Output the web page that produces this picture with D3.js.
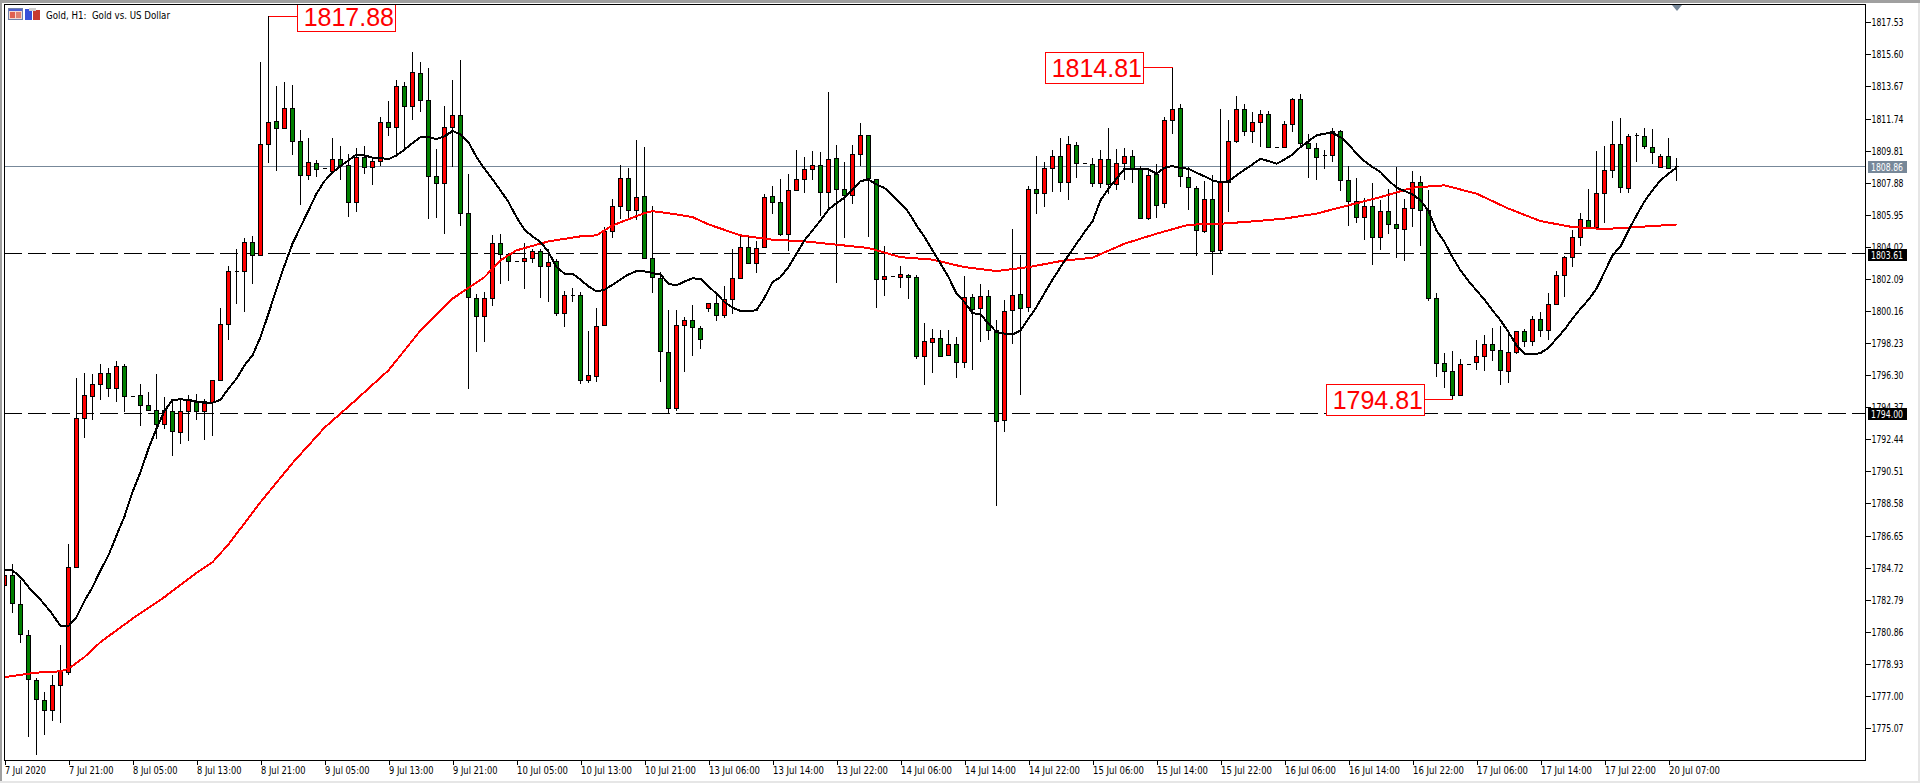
<!DOCTYPE html>
<html>
<head>
<meta charset="utf-8">
<title>Gold, H1</title>
<script src="https://cdn.jsdelivr.net/npm/d3@7"></script>
<style>
html, body { margin: 0; padding: 0; background: #fff; overflow: hidden; }
svg { display: block; }
</style>
</head>
<body>
<div id="chart"></div>
<script>
var opens = [1783.69,1784.25,1782.55,1780.68,1777.98,1776.77,1776.17,1777.68,1778.46,1784.75,
1793.74,1795.06,1795.79,1796.42,1795.55,1796.87,1795.06,1795.12,1794.52,1794.22,
1793.38,1794.14,1792.90,1794.14,1794.72,1794.14,1794.68,1795.99,1799.40,1802.59,
1802.59,1804.33,1803.55,1810.23,1811.61,1811.17,1812.39,1810.41,1808.36,1809.06,
1808.78,1808.58,1809.30,1808.96,1806.71,1809.42,1808.84,1809.20,1811.55,1811.23,
1813.72,1812.49,1814.50,1812.88,1808.30,1807.88,1811.25,1811.97,1806.08,1800.96,
1799.88,1800.96,1804.27,1803.61,1803.19,1803.19,1803.37,1803.79,1802.89,1803.19,
1800.06,1801.14,1801.14,1796.03,1796.27,1799.34,1804.95,1806.50,1808.18,1806.26,
1807.10,1803.37,1802.16,1797.71,1794.34,1799.34,1799.64,1799.16,1800.36,1800.66,
1799.94,1800.90,1802.16,1804.03,1803.07,1804.03,1807.10,1806.74,1804.81,1807.46,
1808.12,1808.72,1808.96,1807.34,1809.39,1807.52,1807.16,1809.63,1810.73,1808.12,
1802.10,1802.29,1802.23,1802.35,1802.23,1797.47,1798.31,1798.55,1797.53,1798.19,
1797.11,1801.02,1800.36,1801.08,1799.04,1793.62,1800.24,1801.20,1800.42,1807.52,
1807.28,1808.78,1809.51,1807.94,1810.17,1809.08,1809.02,1807.88,1809.32,1807.82,
1809.08,1809.51,1808.72,1805.77,1808.42,1806.68,1811.67,1812.39,1808.24,1807.58,
1804.99,1806.92,1803.85,1807.94,1810.41,1812.33,1811.01,1811.55,1812.03,1810.05,
1810.05,1811.43,1812.94,1810.29,1809.99,1809.54,1809.57,1811.01,1808.06,1806.80,
1805.84,1806.50,1804.63,1806.20,1805.41,1805.11,1806.38,1807.94,1806.26,1800.96,
1797.05,1796.57,1795.13,1796.99,1797.11,1797.47,1798.19,1797.83,1796.57,1797.71,
1798.98,1798.37,1799.70,1799.04,1800.60,1802.35,1803.43,1804.63,1805.65,1805.23,
1807.28,1808.66,1810.23,1807.58,1810.77,1810.71,1810.05,1808.84,1809.51,1808.88];

var highs = [1784.85,1784.92,1783.95,1780.94,1778.10,1777.23,1778.24,1780.04,1786.12,1796.11,
1796.41,1796.35,1796.95,1796.71,1797.13,1796.99,1795.06,1795.74,1795.28,1796.35,
1794.98,1794.88,1794.88,1795.08,1795.19,1794.88,1795.99,1800.36,1802.84,1803.91,
1804.53,1804.65,1815.12,1817.88,1813.68,1813.92,1813.74,1811.07,1810.55,1809.22,
1808.78,1810.55,1810.07,1809.63,1809.99,1810.07,1809.42,1811.85,1812.77,1814.04,
1813.96,1815.72,1815.12,1814.76,1809.88,1812.51,1814.08,1815.24,1808.38,1801.20,
1801.28,1804.71,1804.81,1803.63,1803.19,1804.27,1803.91,1803.91,1803.87,1803.28,
1801.34,1801.56,1801.32,1798.93,1800.32,1805.23,1806.88,1808.96,1808.78,1810.43,
1810.01,1806.50,1802.53,1800.20,1800.20,1799.78,1800.50,1799.25,1800.66,1801.26,
1801.64,1803.87,1804.65,1804.65,1804.35,1807.22,1807.66,1808.08,1808.38,1809.82,
1809.40,1809.76,1809.70,1813.31,1810.13,1809.10,1810.13,1811.49,1810.73,1808.12,
1804.05,1802.29,1802.89,1802.41,1802.35,1799.46,1799.05,1798.99,1798.99,1798.57,
1802.24,1801.20,1801.80,1801.40,1799.64,1800.84,1805.11,1803.51,1807.66,1809.46,
1809.10,1809.82,1810.59,1810.71,1810.35,1809.08,1809.39,1809.87,1811.19,1809.93,
1809.99,1809.87,1808.86,1808.78,1809.02,1811.85,1814.81,1812.59,1808.82,1807.70,
1807.96,1808.32,1812.33,1811.63,1813.07,1812.59,1812.15,1812.27,1812.21,1810.05,
1811.57,1813.00,1813.19,1810.83,1810.29,1809.82,1811.19,1811.07,1808.86,1808.18,
1806.95,1807.88,1806.82,1807.52,1808.82,1806.92,1808.58,1808.26,1807.42,1801.26,
1797.65,1797.73,1797.29,1796.99,1798.39,1798.74,1799.16,1799.28,1798.83,1798.98,
1799.10,1799.88,1800.12,1801.26,1802.59,1803.49,1805.05,1806.08,1807.48,1809.76,
1810.07,1811.57,1811.75,1810.83,1810.89,1811.15,1811.13,1809.63,1810.55,1809.34];

var lows = [1783.35,1781.99,1780.20,1774.52,1773.42,1774.64,1775.49,1775.37,1778.24,1784.75,
1792.51,1793.58,1794.78,1794.98,1794.68,1794.08,1795.06,1793.24,1794.14,1792.48,
1793.04,1791.43,1792.18,1792.33,1793.62,1792.39,1792.63,1795.99,1798.39,1800.56,
1800.10,1801.76,1803.55,1809.06,1808.58,1811.13,1809.52,1806.52,1808.02,1808.22,
1808.78,1808.58,1808.02,1805.81,1806.09,1808.38,1807.72,1808.88,1810.67,1809.52,
1809.93,1811.63,1812.13,1805.69,1805.77,1804.81,1808.82,1805.27,1795.49,1797.69,
1798.29,1800.46,1801.78,1801.94,1803.19,1801.48,1803.04,1800.92,1800.70,1799.85,
1799.19,1800.70,1795.74,1795.82,1795.88,1799.34,1804.53,1805.72,1805.77,1805.61,
1803.37,1801.24,1795.88,1793.98,1794.14,1796.49,1797.45,1797.87,1800.10,1799.55,
1799.73,1799.97,1802.16,1803.07,1802.44,1803.97,1805.97,1804.65,1803.77,1807.46,
1807.28,1808.02,1805.85,1806.33,1801.84,1804.55,1806.62,1808.86,1804.61,1800.36,
1801.06,1802.29,1801.54,1800.88,1797.27,1795.73,1796.42,1797.41,1797.47,1796.15,
1796.75,1796.63,1798.31,1798.39,1788.42,1792.88,1798.19,1795.13,1800.10,1806.02,
1806.41,1807.32,1807.32,1806.83,1808.16,1809.08,1807.62,1807.58,1807.22,1807.46,
1808.02,1807.86,1805.77,1805.61,1805.75,1806.35,1810.83,1807.62,1806.21,1803.45,
1804.87,1802.30,1803.61,1806.11,1810.26,1810.69,1810.26,1810.02,1809.99,1810.05,
1810.05,1810.91,1809.99,1808.16,1808.06,1808.68,1809.12,1807.38,1805.25,1805.45,
1804.41,1802.90,1803.85,1804.81,1803.37,1803.16,1805.21,1804.05,1800.76,1796.18,
1795.52,1794.78,1795.13,1796.99,1796.63,1796.55,1797.13,1795.68,1795.82,1797.55,
1797.99,1798.05,1798.57,1798.39,1800.54,1801.00,1802.80,1804.07,1805.21,1805.21,
1805.45,1808.16,1807.26,1807.26,1809.12,1809.88,1808.98,1808.78,1808.72,1807.98];

var closes = [1784.25,1782.61,1780.74,1778.04,1776.83,1776.17,1777.68,1778.54,1784.75,1793.74,
1795.08,1795.79,1796.42,1795.55,1796.87,1795.06,1795.06,1794.52,1794.20,1793.38,
1794.18,1792.93,1794.14,1794.78,1794.14,1794.74,1795.99,1799.40,1802.59,1802.59,
1804.33,1803.55,1810.23,1811.55,1811.17,1812.39,1810.41,1808.36,1809.14,1808.72,
1808.78,1809.30,1808.96,1806.71,1809.42,1808.82,1809.20,1811.55,1811.23,1813.72,
1812.49,1814.56,1812.88,1808.30,1807.88,1811.25,1811.97,1806.08,1801.02,1799.88,
1800.96,1804.27,1803.61,1803.19,1803.19,1803.37,1803.79,1802.89,1803.13,1800.06,
1801.14,1801.14,1796.03,1796.33,1799.28,1804.95,1806.50,1808.18,1806.26,1807.04,
1803.37,1802.22,1797.77,1794.34,1799.34,1799.64,1799.22,1798.49,1800.66,1799.94,
1800.90,1802.16,1804.03,1803.07,1803.97,1807.04,1806.74,1804.81,1807.46,1808.12,
1808.72,1808.96,1807.34,1809.32,1807.52,1807.16,1809.63,1810.73,1808.18,1802.10,
1802.29,1802.29,1802.41,1802.23,1797.47,1798.37,1798.55,1797.47,1798.19,1797.11,
1801.02,1800.30,1801.08,1799.04,1793.56,1800.18,1801.14,1800.36,1807.52,1807.28,
1808.78,1809.51,1807.94,1810.23,1809.08,1809.08,1807.88,1809.32,1807.82,1809.08,
1809.51,1808.72,1805.77,1808.36,1806.56,1811.67,1812.33,1808.30,1807.64,1805.05,
1806.92,1803.79,1807.94,1810.41,1812.33,1811.01,1811.55,1812.03,1810.05,1810.05,
1811.43,1812.94,1810.29,1809.99,1809.45,1809.54,1811.01,1808.06,1806.80,1805.84,
1806.50,1804.63,1806.20,1805.41,1805.17,1806.38,1807.94,1806.26,1800.96,1797.05,
1796.57,1795.13,1796.99,1796.99,1797.47,1798.19,1797.83,1796.63,1797.71,1798.98,
1798.37,1799.70,1799.04,1800.60,1802.35,1803.43,1804.63,1805.72,1805.23,1807.28,
1808.66,1810.23,1807.64,1810.71,1810.77,1810.11,1809.75,1809.51,1808.78,1808.86];

// black moving average, one reading per bar
var fastMa = [1784.55,1784.55,1784.15,1783.55,1783.05,1782.51,1781.91,1781.20,1781.20,1781.74,
1782.71,1783.55,1784.55,1785.46,1786.66,1787.80,1789.26,1790.47,1791.88,1793.08,
1794.14,1794.82,1794.84,1794.82,1794.70,1794.64,1794.64,1794.82,1795.49,1796.09,
1796.89,1797.49,1798.59,1800.00,1801.50,1802.90,1804.21,1805.21,1806.21,1807.22,
1807.98,1808.48,1808.88,1809.22,1809.58,1809.52,1809.39,1809.36,1809.30,1809.52,
1809.87,1810.26,1810.62,1810.62,1810.50,1810.67,1810.99,1810.79,1810.32,1809.42,
1808.72,1808.08,1807.42,1806.71,1805.81,1805.05,1804.65,1804.31,1803.71,1802.80,
1802.41,1802.41,1802.04,1801.64,1801.34,1801.44,1801.74,1802.06,1802.36,1802.56,
1802.54,1802.44,1802.36,1801.80,1801.70,1801.94,1802.12,1802.10,1801.64,1801.20,
1800.70,1800.36,1800.16,1800.16,1800.20,1800.96,1801.90,1802.20,1802.80,1803.61,
1804.41,1805.01,1805.61,1806.26,1806.65,1806.98,1807.46,1807.98,1808.06,1807.78,
1807.56,1807.12,1806.65,1806.11,1805.31,1804.61,1803.81,1803.01,1802.20,1801.20,
1800.70,1800.03,1799.96,1799.40,1798.89,1798.80,1798.75,1798.99,1799.70,1800.40,
1801.24,1802.04,1802.80,1803.51,1804.21,1804.91,1805.55,1806.82,1807.52,1808.12,
1808.72,1808.72,1808.72,1808.68,1808.42,1808.78,1808.88,1808.76,1808.72,1808.48,
1808.26,1808.02,1807.90,1807.96,1808.32,1808.66,1808.98,1809.32,1809.18,1809.02,
1809.27,1809.58,1810.02,1810.38,1810.73,1810.83,1810.87,1810.62,1810.19,1809.63,
1809.18,1808.82,1808.52,1808.02,1807.58,1807.38,1807.18,1806.82,1806.17,1805.01,
1804.31,1803.40,1802.60,1801.96,1801.40,1800.84,1800.20,1799.60,1798.89,1798.09,
1797.59,1797.55,1797.63,1797.95,1798.49,1799.04,1799.70,1800.30,1800.84,1801.50,
1802.50,1803.51,1804.05,1805.01,1805.91,1806.76,1807.42,1808.02,1808.42,1808.78];

// red moving average, read at these bars only
var slowBars = [0,4,7,8,10,12,16,20,24,26,28,32,36,40,44,48,52,56,60,62,64,68,72,74,76,80,81,84,86,88,92,96,100,104,108,112,116,120,124,128,132,136,140,144,148,152,156,160,164,168,172,176,180,184,188,192,196,200,204,208,209];
var slowMa = [1778.13,1778.40,1778.48,1778.64,1779.34,1780.24,1781.65,1782.95,1784.41,1785.05,1786.12,1788.66,1791.01,1793.14,1794.84,1796.59,1798.99,1800.90,1802.20,1803.21,1803.81,1804.35,1804.65,1804.71,1805.31,1806.05,1806.17,1805.97,1805.81,1805.37,1804.71,1804.45,1804.35,1804.15,1803.95,1803.40,1803.25,1802.80,1802.56,1802.80,1803.16,1803.37,1804.21,1804.81,1805.35,1805.41,1805.55,1805.72,1806.02,1806.52,1807.01,1807.58,1807.72,1807.22,1806.32,1805.57,1805.21,1805.09,1805.21,1805.33,1805.31];

var priceTicks = [1817.53,1815.60,1813.67,1811.74,1809.81,1807.88,1805.95,1804.02,1802.09,1800.16,1798.23,1796.30,1794.37,1792.44,1790.51,1788.58,1786.65,1784.72,1782.79,1780.86,1778.93,1777.00,1775.07];
var timeLabels = ["7 Jul 2020","7 Jul 21:00","8 Jul 05:00","8 Jul 13:00","8 Jul 21:00","9 Jul 05:00","9 Jul 13:00","9 Jul 21:00","10 Jul 05:00","10 Jul 13:00","10 Jul 21:00","13 Jul 06:00","13 Jul 14:00","13 Jul 22:00","14 Jul 06:00","14 Jul 14:00","14 Jul 22:00","15 Jul 06:00","15 Jul 14:00","15 Jul 22:00","16 Jul 06:00","16 Jul 14:00","16 Jul 22:00","17 Jul 06:00","17 Jul 14:00","17 Jul 22:00","20 Jul 07:00"];
var levelPrices = [1803.61, 1794.00];
var bidPrice = 1808.86;
var swingLabels = ["1817.88", "1814.81", "1794.81"];
var swingBars = [33, 146, 181];
var swingValues = [1817.88, 1814.81, 1794.81];

var fullWidth = 1920, fullHeight = 783;
var left = 4, right = 1865, top_ = 4, bottom = 760;
var font = "'DejaVu Sans', sans-serif";

var svg = d3.select("#chart").append("svg")
    .attr("width", fullWidth)
    .attr("height", fullHeight)
    .style("background", "#fff");

var x = d3.scaleLinear().domain([0, 209]).range([4.5, 1676.5]);
var y = d3.scaleLinear().domain([1817.53, 1775.07]).range([22.3, 728]);

// window edges
svg.append("rect").attr("x", 0).attr("y", 0).attr("width", fullWidth).attr("height", 3).attr("fill", "#a0a0a0");
svg.append("rect").attr("x", 0).attr("y", 0).attr("width", 2).attr("height", fullHeight).attr("fill", "#a0a0a0");
svg.append("rect").attr("x", 1918).attr("y", 3).attr("width", 2).attr("height", fullHeight).attr("fill", "#e6e6e6");
svg.append("rect").attr("x", 0).attr("y", 781).attr("width", fullWidth).attr("height", 2).attr("fill", "#e6e6e6");

svg.append("clipPath").attr("id", "plot-clip").append("rect")
    .attr("x", left).attr("y", top_).attr("width", right - left).attr("height", bottom - top_);

var plot = svg.append("g").attr("clip-path", "url(#plot-clip)").attr("shape-rendering", "crispEdges");

// level lines sit behind the candles
plot.selectAll(".level").data(levelPrices).enter().append("line")
    .attr("class", "level")
    .attr("x1", left).attr("x2", right)
    .attr("y1", function (d) { return y(d); })
    .attr("y2", function (d) { return y(d); })
    .attr("stroke", "#000")
    .attr("stroke-dasharray", "18,6");

plot.append("line")
    .attr("x1", left).attr("x2", right)
    .attr("y1", y(bidPrice)).attr("y2", y(bidPrice))
    .attr("stroke", "#778899");

var bars = d3.range(opens.length);

plot.selectAll(".wick").data(bars).enter().append("line")
    .attr("class", "wick")
    .attr("x1", function (i) { return x(i); })
    .attr("x2", function (i) { return x(i); })
    .attr("y1", function (i) { return y(highs[i]); })
    .attr("y2", function (i) { return y(lows[i]); })
    .attr("stroke", "#000");

// path and not rect, a doji has zero height and must still show as a dash
plot.selectAll(".body").data(bars).enter().append("path")
    .attr("class", "body")
    .attr("d", function (i) {
        var a = Math.round(y(opens[i])) + 0.5, b = Math.round(y(closes[i])) + 0.5, c = x(i);
        return "M" + (c - 2) + "," + a + "H" + (c + 2) + "V" + b + "H" + (c - 2) + "Z";
    })
    .attr("fill", function (i) { return closes[i] >= opens[i] ? "#ff0000" : "#008000"; })
    .attr("stroke", "#000");

var fastLine = d3.line()
    .x(function (d, i) { return x(i); })
    .y(function (d) { return y(d); });

var slowLine = d3.line()
    .x(function (d, i) { return x(slowBars[i]); })
    .y(function (d) { return y(d); });

plot.append("path")
    .attr("d", slowLine(slowMa))
    .attr("fill", "none")
    .attr("stroke", "#ff0000")
    .attr("stroke-width", 2);

plot.append("path")
    .attr("d", fastLine(fastMa))
    .attr("fill", "none")
    .attr("stroke", "#000")
    .attr("stroke-width", 2);

// swing labels: box, text and a red leader to the bar
var boxOffsets = [[28.5, 1], [-127.5, 1], [-126.5, 1]];
var swings = svg.append("g").attr("clip-path", "url(#plot-clip)");
swingLabels.forEach(function (label, k) {
    var bx = x(swingBars[k]), by = y(swingValues[k]);
    var boxX = k == 0 ? bx + boxOffsets[k][0] : bx + boxOffsets[k][0] - 0;
    var boxW = 98.5;
    swings.append("line")
        .attr("x1", k == 0 ? bx : boxX + boxW)
        .attr("x2", k == 0 ? boxX : bx)
        .attr("y1", by).attr("y2", by)
        .attr("stroke", "#ff0000")
        .attr("shape-rendering", "crispEdges");
    swings.append("rect")
        .attr("x", boxX).attr("y", by - 15.5)
        .attr("width", boxW).attr("height", 31)
        .attr("fill", "#fff")
        .attr("stroke", "#ff0000")
        .attr("shape-rendering", "crispEdges");
    swings.append("text")
        .attr("x", boxX + 97)
        .attr("y", by + 9.5)
        .attr("text-anchor", "end")
        .attr("fill", "#ff0000")
        .attr("font-family", "'Liberation Sans', Arial, sans-serif")
        .attr("font-size", 25)
        .text(label);
});

// frame
svg.append("rect")
    .attr("x", left + 0.5).attr("y", top_ + 0.5)
    .attr("width", right - left).attr("height", bottom - top_)
    .attr("fill", "none")
    .attr("stroke", "#000")
    .attr("shape-rendering", "crispEdges");

// price axis
var yAxis = svg.append("g")
    .attr("transform", "translate(" + (right + 0.5) + ",0)")
    .call(d3.axisRight(y).tickValues(priceTicks).tickSize(5).tickPadding(1).tickFormat(d3.format(".2f")));
yAxis.select(".domain").remove();
yAxis.selectAll("line").attr("stroke", "#000").attr("shape-rendering", "crispEdges");
yAxis.selectAll("text")
    .attr("fill", "#000")
    .attr("font-family", font)
    .attr("font-size", 11)
    .attr("textLength", 32)
    .attr("lengthAdjust", "spacingAndGlyphs");

// time axis
var xAxis = svg.append("g")
    .attr("transform", "translate(0," + (bottom + 0.5) + ")")
    .call(d3.axisBottom(x)
        .tickValues(timeLabels.map(function (d, i) { return i * 8; }))
        .tickSize(4)
        .tickPadding(2)
        .tickFormat(function (d, i) { return timeLabels[i]; }));
xAxis.select(".domain").remove();
xAxis.selectAll("line").attr("stroke", "#000").attr("shape-rendering", "crispEdges");
xAxis.selectAll("text")
    .attr("fill", "#000")
    .attr("font-family", font)
    .attr("font-size", 11)
    .attr("text-anchor", "start")
    .attr("textLength", function (d, i) { return i == 0 ? 41 : (timeLabels[i].length == 11 ? 44.5 : 51); })
    .attr("lengthAdjust", "spacingAndGlyphs");

// price tags on the axis
var tagValues = [bidPrice].concat(levelPrices);
var tags = svg.selectAll(".tag").data(tagValues).enter().append("g").attr("class", "tag");
tags.append("rect")
    .attr("x", 1868).attr("width", 39)
    .attr("y", function (d) { return Math.round(y(d)) - 5; })
    .attr("height", 12)
    .attr("fill", function (d) { return d == bidPrice ? "#778899" : "#000"; });
tags.append("text")
    .attr("x", 1871)
    .attr("y", function (d) { return Math.round(y(d)) + 5; })
    .attr("fill", "#fff")
    .attr("font-family", font)
    .attr("font-size", 11)
    .attr("textLength", 32)
    .attr("lengthAdjust", "spacingAndGlyphs")
    .text(function (d) { return d.toFixed(2); });

// chart shift marker
svg.append("path")
    .attr("d", d3.line()([[1672, 5], [1682, 5], [1677, 11]]) + "Z")
    .attr("fill", "#778899");

// header icons and title
var icons = svg.append("g").attr("shape-rendering", "crispEdges");
icons.append("rect").attr("x", 8.5).attr("y", 8.5).attr("width", 14).attr("height", 11).attr("fill", "#f4d8d0").attr("stroke", "#7080a8");
icons.append("rect").attr("x", 9).attr("y", 9).attr("width", 13).attr("height", 2).attr("fill", "#5060d0");
icons.append("rect").attr("x", 10).attr("y", 12).attr("width", 5).attr("height", 6).attr("fill", "#e06050");
icons.append("rect").attr("x", 16).attr("y", 12).attr("width", 5).attr("height", 6).attr("fill", "#e08070");
icons.append("rect").attr("x", 25).attr("y", 9).attr("width", 7).attr("height", 11).attr("fill", "#3850d8");
icons.append("rect").attr("x", 33).attr("y", 10).attr("width", 7).attr("height", 10).attr("fill", "#c83a30");
icons.append("rect").attr("x", 29).attr("y", 8).attr("width", 7).attr("height", 3).attr("fill", "#d0d0d0");

svg.append("text")
    .attr("x", 46).attr("y", 18.5)
    .attr("fill", "#000")
    .attr("font-family", font)
    .attr("font-size", 11)
    .attr("textLength", 124)
    .attr("lengthAdjust", "spacingAndGlyphs")
    .attr("xml:space", "preserve")
    .style("white-space", "pre")
    .text("Gold, H1:  Gold vs. US Dollar");
</script>
</body>
</html>
